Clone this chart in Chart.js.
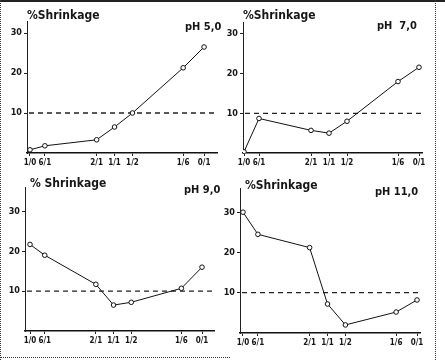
<!DOCTYPE html>
<html>
<head>
<meta charset="utf-8">
<script src="https://cdn.jsdelivr.net/npm/chart.js@4/dist/chart.umd.min.js"></script>
<style>
body { margin: 0; background: #fff; }
#page { position: relative; width: 445px; height: 360px; overflow: hidden; background: #fff; }
#page canvas { position: absolute; }
.ttl { position: absolute; font-family: 'DejaVu Sans Condensed', sans-serif; font-weight: bold; color: #161616; white-space: pre; line-height: 1; }
.frame { position: absolute; border-color: #222; }
</style>
</head>
<body>
<div id="page">
  <div class="frame" style="left:0;top:0;width:445px;height:0;border-top:2px solid #222;"></div>
  <div class="frame" style="left:0;top:0;width:0;height:360px;border-left:1px dotted #333;"></div>
  <div class="frame" style="left:435px;top:0;width:0;height:360px;border-left:1px dotted #333;"></div>
  <div class="frame" style="left:0;top:357px;width:230px;height:0;border-top:1px dotted #333;"></div>
</div>
<script>
// mixing ratios along the x axis and where they sit
const ratioLabels = ['1/0', '6/1', '2/1', '1/1', '1/2', '1/6', '0/1'];
const ratioPos = [0, 15, 67, 85, 103, 154, 175];

// % shrinkage
const shrinkPH5 = [0.8, 1.8, 3.3, 6.5, 10.0, 21.3, 26.5];
const shrinkPH7 = [0.3, 8.7, 5.7, 5.0, 8.0, 18.0, 21.6];
const shrinkPH9 = [21.7, 19.0, 11.7, 6.5, 7.2, 10.7, 16.0];
const shrinkPH11 = [30.0, 24.5, 21.2, 7.2, 2.0, 5.2, 8.2];

const phLabels = ['pH 5,0', 'pH  7,0', 'pH 9,0', 'pH 11,0'];
const yTitles = ['%Shrinkage', '%Shrinkage', '% Shrinkage', '%Shrinkage'];
const yTicks = [10, 20, 30];
const refLevel = 10;

// panel placement (pixels) and axis ranges
const panels = [
  { data: shrinkPH5,  left: 0,   top: 0,   w: 222, h: 180, axisW: 27, axisH: 27, padTop: 21, padRight: 4,  xMin: -3,   xMax: 188,   yMax: 33,
    ttl: [27, 9],  ph: [185, 21] },
  { data: shrinkPH7,  left: 222, top: 0,   w: 218, h: 180, axisW: 21, axisH: 27, padTop: 22, padRight: 18, xMin: -1,   xMax: 178,   yMax: 33,
    ttl: [243, 9], ph: [377, 20] },
  { data: shrinkPH9,  left: 0,   top: 180, w: 222, h: 180, axisW: 25, axisH: 29, padTop: 7,  padRight: 8,  xMin: -5.1, xMax: 187.2, yMax: 36,
    ttl: [30, 177], ph: [184, 184] },
  { data: shrinkPH11, left: 222, top: 180, w: 218, h: 180, axisW: 18, axisH: 27, padTop: 8,  padRight: 20, xMin: -3,   xMax: 178,   yMax: 36,
    ttl: [245, 179], ph: [375, 186] }
];

const yFont = { family: "'DejaVu Sans Condensed', sans-serif", size: 9, weight: 'bold' };
const xFont = { family: "'DejaVu Sans Condensed', sans-serif", size: 8, weight: 'bold' };

const refLine = {
  id: 'refLine',
  beforeDatasetsDraw(chart) {
    const c = chart.ctx, a = chart.chartArea;
    const y = chart.scales.y.getPixelForValue(refLevel);
    c.save();
    c.strokeStyle = '#222';
    c.lineWidth = 1.3;
    c.setLineDash([5, 4]);
    c.beginPath();
    c.moveTo(a.left + 2, y);
    c.lineTo(a.right, y);
    c.stroke();
    c.restore();
  }
};

const page = document.getElementById('page');

panels.forEach((p, k) => {
  const cv = document.createElement('canvas');
  cv.width = p.w;
  cv.height = p.h;
  cv.style.left = p.left + 'px';
  cv.style.top = p.top + 'px';
  page.appendChild(cv);

  const t = document.createElement('div');
  t.className = 'ttl';
  t.style.cssText = 'left:' + p.ttl[0] + 'px;top:' + p.ttl[1] + 'px;font-size:12px;';
  t.textContent = yTitles[k];
  page.appendChild(t);

  const ph = document.createElement('div');
  ph.className = 'ttl';
  ph.style.cssText = 'left:' + p.ph[0] + 'px;top:' + p.ph[1] + 'px;font-size:11px;';
  ph.textContent = phLabels[k];
  page.appendChild(ph);

  new Chart(cv.getContext('2d'), {
    type: 'line',
    data: {
      datasets: [{
        data: ratioPos.map((x, i) => ({ x: x, y: p.data[i] })),
        borderColor: '#111',
        borderWidth: 1,
        pointRadius: 2.3,
        pointBackgroundColor: '#fff',
        pointBorderColor: '#111',
        pointBorderWidth: 1,
        fill: false,
        tension: 0
      }]
    },
    options: {
      responsive: false,
      animation: false,
      layout: { padding: { top: p.padTop, right: p.padRight, left: 0, bottom: 0 } },
      plugins: { legend: { display: false }, tooltip: { enabled: false } },
      scales: {
        x: {
          type: 'linear',
          min: p.xMin,
          max: p.xMax,
          afterFit: s => { s.height = p.axisH; },
          afterBuildTicks: s => { s.ticks = ratioPos.map(v => ({ value: v })); },
          ticks: {
            autoSkip: false,
            maxRotation: 0,
            padding: 2,
            color: '#161616',
            font: xFont,
            callback: (v, i) => ratioLabels[i]
          },
          grid: { drawOnChartArea: false, tickLength: 3, color: '#222' },
          border: { color: '#111', width: 1.6 }
        },
        y: {
          min: 0,
          max: p.yMax,
          afterFit: s => { s.width = p.axisW; },
          afterBuildTicks: s => { s.ticks = yTicks.map(v => ({ value: v })); },
          ticks: { padding: 2, color: '#161616', font: yFont },
          grid: { drawOnChartArea: false, tickLength: 3, color: '#222' },
          border: { color: '#222', width: 1 }
        }
      }
    },
    plugins: [refLine]
  });
});
</script>
</body>
</html>
